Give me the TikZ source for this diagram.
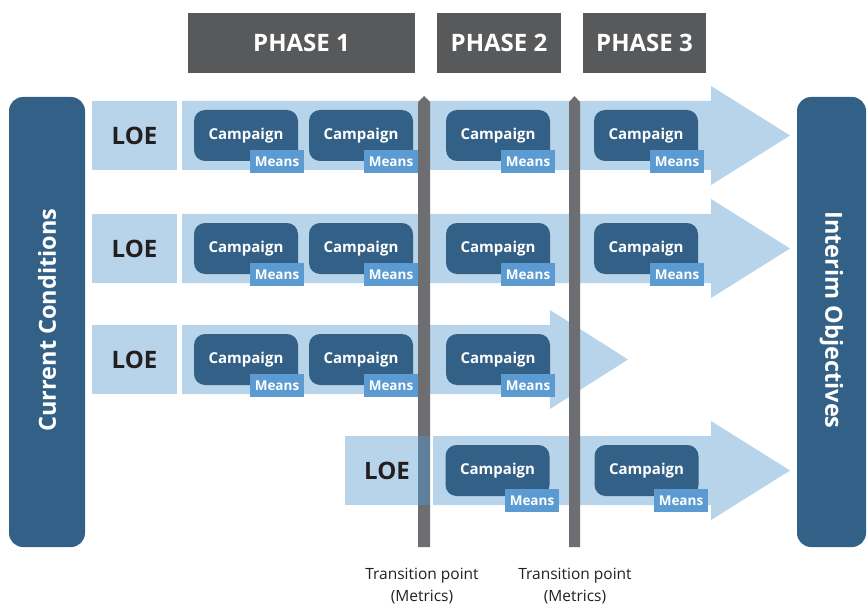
\documentclass[tikz,border=0pt]{standalone}
\usepackage{fontspec}
\setmainfont{Open Sans}
\definecolor{lightb}{HTML}{B7D4EA}
\definecolor{darkb}{HTML}{336086}
\definecolor{meansb}{HTML}{5B9BD1}
\definecolor{barg}{HTML}{6D6E71}
\definecolor{barmix}{HTML}{5F7F9A}
\definecolor{headg}{HTML}{58595B}
\definecolor{txt}{HTML}{231F20}
\begin{document}
\begin{tikzpicture}[x=1pt,y=-1pt,
  header/.style={fill=headg,inner sep=0pt,minimum height=60pt,text=white,font=\bfseries\fontsize{24}{26}\selectfont},
  side/.style={fill=darkb,rounded corners=14pt,inner sep=0pt},
  sidetext/.style={text=white,font=\bfseries\fontsize{23.5}{26}\selectfont},
  loebox/.style={fill=lightb,inner sep=0pt,minimum width=85pt,minimum height=69pt,text=txt,font=\bfseries\fontsize{24}{26}\selectfont},
  band/.style={fill=lightb},
  campaign/.style={fill=darkb,rounded corners=11pt,inner sep=0pt,minimum width=104pt,minimum height=51pt,text=white,font=\bfseries\fontsize{15}{17}\selectfont},
  means/.style={fill=meansb,inner sep=0pt,minimum width=54pt,minimum height=23pt,text=white,font=\bfseries\fontsize{13.5}{15}\selectfont},
  tbar/.style={fill=barg},
  tlabel/.style={text=txt,align=center,font=\fontsize{15.5}{21.5}\selectfont}
]
\useasboundingbox (0,0) rectangle (867,604);

% headers
\node[header,minimum width=227pt] (ph1) at (301.5,43) {PHASE 1};
\node[header,minimum width=124pt] (ph2) at (499,43) {PHASE 2};
\node[header,minimum width=123pt] (ph3) at (644.5,43) {PHASE 3};

% side boxes
\fill[side] (9,97) rectangle (85,547);
\node[sidetext,rotate=90] (cc) at (47,320) {Current Conditions};
\fill[side] (797,97) rectangle (866,547);
\node[sidetext,rotate=-90] (io) at (831.5,320) {Interim Objectives};

% bands (arrows)
\foreach \yt/\ex/\tip/\xs in {101/711/790/182, 214/711/790/182, 325/550/628/182, 436/711/790/433}{
  \fill[band] (\xs,\yt) -- (\ex,\yt) -- (\ex,\yt-15) -- (\tip,\yt+34.5) -- (\ex,\yt+84) -- (\ex,\yt+69) -- (\xs,\yt+69) -- cycle;
}

% transition bars
\fill[tbar] (418,102) -- (424,96) -- (430,102) -- (430,547) -- (418,547) -- cycle;
\fill[tbar] (569,102) -- (574.5,96) -- (580,102) -- (580,547) -- (569,547) -- cycle;
\node[tlabel,anchor=north] (tl1) at (422,565) {Transition point\\(Metrics)};
\node[tlabel,anchor=north] (tl2) at (575,565) {Transition point\\(Metrics)};

% LOE boxes
\node[loebox] (loe1) at (134.5,135.5) {LOE};
\node[loebox] (loe2) at (134.5,248.5) {LOE};
\node[loebox] (loe3) at (134.5,359.5) {LOE};
\node[loebox] (loe4) at (387,470.5) {LOE};
\fill[barmix] (418,436) rectangle (430,505);

% campaigns rows 1-3
\foreach \r/\yc in {1/135.5, 2/248.5, 3/359.5}{
  \node[campaign] (c\r a) at (246,\yc) {Campaign};
  \node[means] (m\r a) at (277,\yc+26) {Means};
  \node[campaign] (c\r b) at (361,\yc) {Campaign};
  \node[means] (m\r b) at (391,\yc+26) {Means};
  \node[campaign] (c\r c) at (498,\yc) {Campaign};
  \node[means] (m\r c) at (528,\yc+26) {Means};
}
\foreach \r/\yc in {1/135.5, 2/248.5}{
  \node[campaign] (c\r d) at (646,\yc) {Campaign};
  \node[means] (m\r d) at (677,\yc+26) {Means};
}
% row 4
\node[campaign] (c4c) at (497.5,470.5) {Campaign};
\node[means] (m4c) at (532,500.5) {Means};
\node[campaign] (c4d) at (646.5,470.5) {Campaign};
\node[means] (m4d) at (681,500.5) {Means};
\end{tikzpicture}
\end{document}
